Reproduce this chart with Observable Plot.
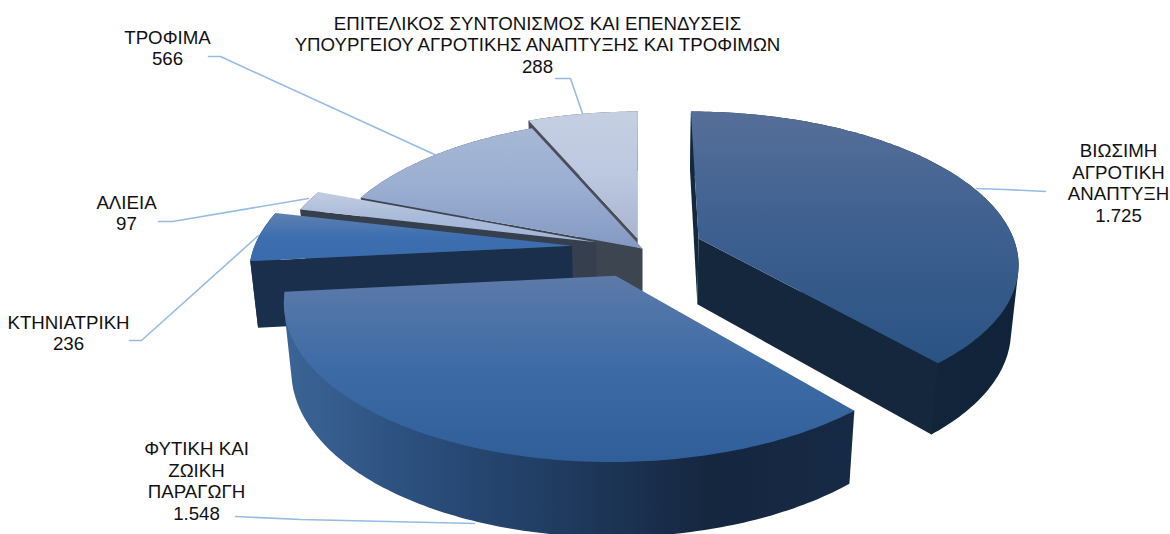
<!DOCTYPE html>
<html>
<head>
<meta charset="utf-8">
<script src="https://cdn.jsdelivr.net/npm/d3@7"></script>
<script src="https://cdn.jsdelivr.net/npm/@observablehq/plot@0.6"></script>
<style>
html,body{margin:0;padding:0;background:#fff;overflow:hidden}
svg{display:block}
</style>
</head>
<body>
<div id="chart"></div>
<script>
// Data
const categories = ["ΒΙΩΣΙΜΗ\nΑΓΡΟΤΙΚΗ\nΑΝΑΠΤΥΞΗ","ΦΥΤΙΚΗ ΚΑΙ\nΖΩΙΚΗ\nΠΑΡΑΓΩΓΗ","ΚΤΗΝΙΑΤΡΙΚΗ","ΑΛΙΕΙΑ","ΤΡΟΦΙΜΑ","ΕΠΙΤΕΛΙΚΟΣ ΣΥΝΤΟΝΙΣΜΟΣ ΚΑΙ ΕΠΕΝΔΥΣΕΙΣ\nΥΠΟΥΡΓΕΙΟΥ ΑΓΡΟΤΙΚΗΣ ΑΝΑΠΤΥΞΗΣ ΚΑΙ ΤΡΟΦΙΜΩΝ"];
const values = [1725,1548,236,97,566,288];
const valueLabels = ["1.725","1.548","236","97","566","288"];

// Layout of the exploded slices and of the labels
const explodeX = [58,-24,-68,-44,2,-3];
const explodeV = [0,0.245,0.05,0.025,0.068,0];
const labelX = [1118,196,68,126,167,537];
const labelY = [182,480,332,212,47,44];
const leaders = [
  [[1045,191],[1004,189],[976,188]],
  [[235,516],[300,519],[474,523]],
  [[129,340],[141,340],[258,235]],
  [[158,221],[172,221],[308,198]],
  [[208,56],[220,56],[434,154]],
  [[555,78],[570,78],[582,113]]
];
const drawOrder = [5,4,3,2,0,1];

// Colours
const topStops = [
  ["#566f99","#3c5f8f","#2a5383"],
  ["#5c7aa9","#3d6ba6","#2f5e98"],
  ["#5f80b1","#3d6fb0","#3a6cad"],
  ["#c2cde1","#a9bbda","#a4b6d6"],
  ["#a6b8d5","#9aaed2","#8499c2"],
  ["#c5cfe2","#bcc8e0","#a9b5cf"]
];
const sideStops = [
  ["#14273c","#12263b","#10233a"],
  ["#3b6596","#2a4d7b","#1f3a5e","#15263f","#172a45"],
  ["#182d4a","#1a2f4c","#1a2f4c"],
  ["#4a4f5e","#4a4f5e","#4a4f5e"],
  ["#454b57","#3f4752","#3f4752"],
  ["#4a4e5a","#4a4e5a","#4a4e5a"]
];
const faceColors = ["#14273c","#1a3355","#1a2f4c","#353f4d","#3d4550","#4a4e5a"];
const leaderColor = "#96bce6";

// Perspective view of the disc
const cx=640, cy=238, R=315, A=146, T=67, k=0.15, m=0.02;
const project=(X,V,H)=>{const w=1/(1-k*V+m*H);return {x:cx+w*X,y:cy+w*(A*V+T*H)};};

const arcs = d3.pie().sort(null).startAngle(0).endAngle(2*Math.PI)(values);
const rim=(i,t,H)=>project(explodeX[i]+R*Math.sin(t),explodeV[i]-Math.cos(t),H);
const tip=(i,H)=>project(explodeX[i],explodeV[i],H);
const arcPts=(i,H)=>{
  const {startAngle:a,endAngle:b}=arcs[i];
  return d3.range(0,1.0001,1/Math.max(8,Math.ceil((b-a)*60))).map(f=>rim(i,a+(b-a)*f,H));
};
const topFace=i=>[tip(i,0),...arcPts(i,0)];
// Outer wall: the hull of the upper and lower rims gives the straight silhouette of the extrusion
const sideFace=i=>d3.polygonHull([...arcPts(i,0),...arcPts(i,1)].map(p=>[p.x,p.y])).map(([x,y])=>({x,y}));
const radialFace=(i,t)=>[tip(i,0),rim(i,t,0),rim(i,t,1),tip(i,1)];
// A radial wall is drawn only when it faces the viewer
const winding=pts=>d3.sum(pts,(p,j)=>{const q=pts[(j+1)%pts.length];return p.x*q.y-q.x*p.y;});
const wallMarks=i=>{
  const s=radialFace(i,arcs[i].startAngle), e=radialFace(i,arcs[i].endAngle), out=[];
  if (winding(s)<0) out.push(face(s,faceColors[i]));
  if (winding(e)>0) out.push(face(e,faceColors[i]));
  return out;
};

const defs=()=>{
  const d=d3.create("svg:defs");
  const grad=(id,stops,horizontal)=>{
    const g=d.append("linearGradient").attr("id",id).attr("x1",0).attr("y1",0)
      .attr("x2",horizontal?1:0).attr("y2",horizontal?0:1);
    stops.forEach((c,j)=>g.append("stop").attr("offset",j/(stops.length-1)).attr("stop-color",c));
  };
  topStops.forEach((s,i)=>grad("top"+i,s,false));
  sideStops.forEach((s,i)=>grad("side"+i,s,true));
  return d.node();
};

function face(pts,fill){return Plot.line(pts,{x:"x",y:"y",fill,stroke:"none"});}
const sliceMarks=drawOrder.flatMap(i=>[
  face(sideFace(i),`url(#side${i})`),
  ...wallMarks(i),
  face(topFace(i),`url(#top${i})`)
]);
const leaderMarks=leaders.map(l=>Plot.line(l,{x:d=>d[0],y:d=>d[1],stroke:leaderColor,strokeWidth:1.6}));
const labels=categories.map((c,i)=>({text:c+"\n"+valueLabels[i],x:labelX[i],y:labelY[i]}));

const chart=Plot.plot({
  width:1170,height:534,margin:0,
  x:{domain:[0,1170],range:[0,1170],axis:null},
  y:{domain:[0,534],range:[0,534],axis:null},
  style:{background:"#fff"},
  marks:[
    defs,
    ...leaderMarks,
    ...sliceMarks,
    Plot.text(labels,{x:"x",y:"y",text:"text",textAnchor:"middle",lineAnchor:"middle",lineHeight:1.15,
      fontFamily:"Liberation Sans",fontSize:18.7,fill:"#111"})
  ]
});
document.getElementById("chart").append(chart);
</script>
</body>
</html>
